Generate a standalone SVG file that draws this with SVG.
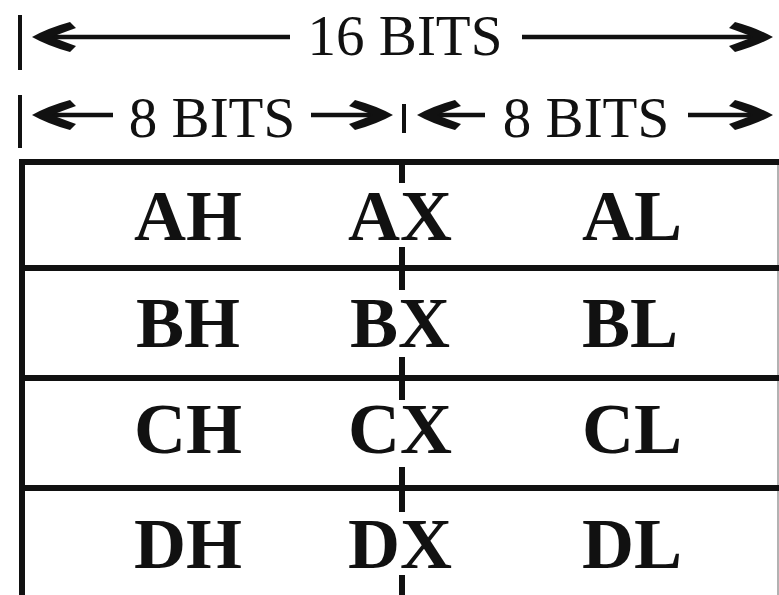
<svg xmlns="http://www.w3.org/2000/svg" width="779" height="595" viewBox="0 0 779 595">
<style>
.lbl{font-family:"Liberation Serif","Times New Roman",serif;font-size:57px;fill:#111;text-anchor:middle}
.reg{font-family:"Liberation Serif","Times New Roman",serif;font-size:72px;font-weight:bold;fill:#111;text-anchor:middle}
.ln{stroke:#111;fill:none}
.ah{fill:#111}
</style>
<defs>
<path id="hl" d="M0,0 Q16,-9 38,-15 L44,-9 Q30,-4 20,0 Q30,4 44,9 L38,15 Q16,9 0,0 Z"/>
<path id="hr" d="M0,0 Q-16,-9 -38,-15 L-44,-9 Q-30,-4 -20,0 Q-30,4 -44,9 L-38,15 Q-16,9 0,0 Z"/>
</defs>
<rect width="779" height="595" fill="#fff"/>
<g id="dimensions">
<line class="ln" x1="20" y1="15" x2="20" y2="70" stroke-width="4"/>
<line class="ln" x1="20" y1="95" x2="20" y2="148" stroke-width="4"/>
<line class="ln" x1="404" y1="104" x2="404" y2="133" stroke-width="4"/>
<g class="ln" stroke-width="4.5">
<line x1="40" y1="37" x2="290" y2="37"/>
<line x1="522" y1="37" x2="765" y2="37"/>
<line x1="40" y1="115" x2="113" y2="115"/>
<line x1="311" y1="115" x2="385" y2="115"/>
<line x1="425" y1="115" x2="485" y2="115"/>
<line x1="688" y1="115" x2="765" y2="115"/>
</g>
<use href="#hl" x="32" y="37" class="ah"/>
<use href="#hr" x="773" y="37" class="ah"/>
<use href="#hl" x="32" y="115" class="ah"/>
<use href="#hr" x="393" y="115" class="ah"/>
<use href="#hl" x="417" y="115" class="ah"/>
<use href="#hr" x="773" y="115" class="ah"/>
<text class="lbl" x="405" y="55">16 BITS</text>
<text class="lbl" x="212" y="137">8 BITS</text>
<text class="lbl" x="586" y="137">8 BITS</text>
</g>
<g id="table">
<line class="ln" x1="22" y1="159" x2="22" y2="595" stroke-width="6"/>
<line x1="778" y1="162" x2="778" y2="595" stroke="#999" stroke-width="1.5"/>
<g class="ln" stroke-width="6">
<line x1="19" y1="162" x2="779" y2="162"/>
<line x1="19" y1="268" x2="779" y2="268"/>
<line x1="19" y1="378" x2="779" y2="378"/>
<line x1="19" y1="488" x2="779" y2="488"/>
</g>
<g class="ln" stroke-width="6">
<line x1="402" y1="162" x2="402" y2="183"/>
<line x1="402" y1="247" x2="402" y2="290"/>
<line x1="402" y1="357" x2="402" y2="400"/>
<line x1="402" y1="467" x2="402" y2="512"/>
<line x1="402" y1="575" x2="402" y2="595"/>
</g>
</g>
<g id="row-a"><text class="reg" x="188" y="240">AH</text><text class="reg" x="400" y="240">AX</text><text class="reg" x="632" y="240">AL</text></g>
<g id="row-b"><text class="reg" x="188" y="347">BH</text><text class="reg" x="400" y="347">BX</text><text class="reg" x="630" y="347">BL</text></g>
<g id="row-c"><text class="reg" x="188" y="453">CH</text><text class="reg" x="400" y="453">CX</text><text class="reg" x="632" y="453">CL</text></g>
<g id="row-d"><text class="reg" x="188" y="568">DH</text><text class="reg" x="400" y="568">DX</text><text class="reg" x="632" y="568">DL</text></g>
</svg>
